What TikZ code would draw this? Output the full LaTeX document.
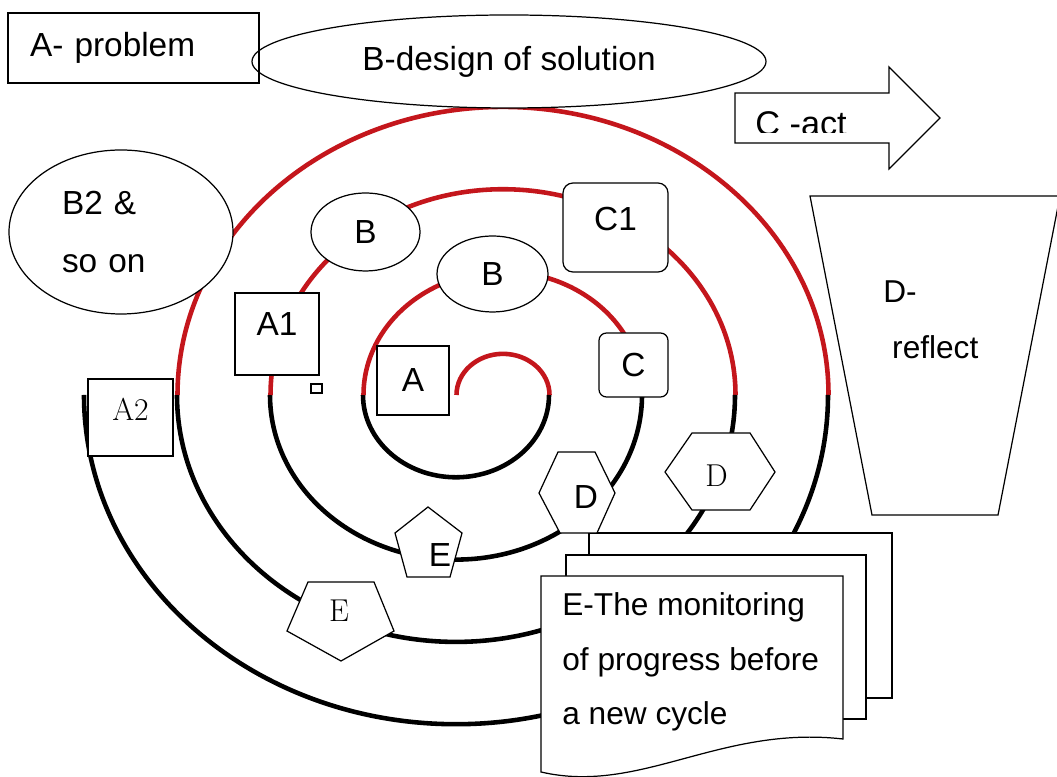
\documentclass[tikz,border=0pt]{standalone}
\usepackage{fontspec}
\setsansfont{Liberation Sans}
\usetikzlibrary{shapes.geometric}
\definecolor{spiralred}{RGB}{196,22,28}
\tikzset{
  outline/.style={line width=0.7pt, fill=white},
  stage/.style={draw, outline, inner sep=1pt, font=\sffamily\fontsize{19}{23}\selectfont},
  lettertag/.style={inner sep=0pt, font=\sffamily\fontsize{19}{23}\selectfont},
  seriftag/.style={inner sep=0pt, font=\rmfamily\fontsize{18}{22}\selectfont},
  note/.style={inner sep=0pt, anchor=north west, align=left, font=\sffamily\fontsize{18}{32}\selectfont},
  redturn/.style={spiralred, line width=2.6pt},
  blackturn/.style={black, line width=2.6pt}
}
\begin{document}
\begin{tikzpicture}
\path[use as bounding box, fill=white] (0,0) rectangle (21.14,15.54);
% spiral: red half turns above, black half turns below
\foreach \r/\R in {0.93/1.86, 2.79/3.72, 4.65/5.58, 6.51/7.44} {
  \draw[redturn] (10.06-\r,7.64) arc[start angle=180, end angle=0, x radius=\r, y radius=0.885*\r];
  \draw[blackturn] (9.12+\R,7.64) arc[start angle=0, end angle=-180, x radius=\R, y radius=0.885*\R];
}
% top row
\node[stage, ellipse, minimum width=10.28cm, minimum height=1.86cm] (design) at (10.18,14.31) {B-design of solution};
\node[stage, fill=none, minimum height=1.40cm, text width=4.14cm, inner xsep=0.44cm, align=left] (problem) at (2.67,14.58) {A- problem};
\draw[outline] (14.70,13.68) -- (17.78,13.68) -- (17.78,14.20) -- (18.80,13.18) -- (17.78,12.16) -- (17.78,12.68) -- (14.70,12.68) -- cycle;
\begin{scope}
\clip (14.70,12.88) rectangle (17.78,13.68);
\node[lettertag, anchor=base west, font=\sffamily\fontsize{19.5}{23}\selectfont] (act) at (15.10,12.83) {C -act};
\end{scope}
% reflect
\draw[outline] (16.20,11.62) -- (21.20,11.62) -- (19.96,5.24) -- (17.44,5.24) -- cycle;
\node[note] (reflect) at (17.66,9.93) {D-\\\hspace*{0.28em}reflect};
% labels on the turns
\node[stage, ellipse, minimum width=4.48cm, minimum height=3.28cm, text width=2.36cm, align=left, font=\sffamily\fontsize{19}{33}\selectfont] (btwo) at (2.42,10.90) {B2 \&\\so on};
\node[stage, ellipse, minimum width=2.18cm, minimum height=1.56cm] (bouter) at (7.31,10.90) {B};
\node[stage, ellipse, minimum width=2.22cm, minimum height=1.52cm] (binner) at (9.85,10.06) {B};
\node[stage, rounded corners=0.2cm, minimum width=2.10cm, minimum height=1.78cm] (cone) at (12.31,10.99) {};
\node[lettertag] (conetext) at ([yshift=0.16cm]cone.center) {C1};
\node[stage, minimum width=1.68cm, minimum height=1.64cm] (aone) at (5.54,8.86) {};
\node[lettertag] (aonetext) at ([yshift=0.19cm]aone.center) {A1};
\node[stage, inner sep=0pt, minimum width=0.22cm, minimum height=0.18cm] (dot) at (6.33,7.77) {};
\node[stage, minimum width=1.44cm, minimum height=1.38cm] (a) at (8.26,7.93) {A};
\node[stage, rounded corners=0.15cm, minimum width=1.38cm, minimum height=1.28cm] (c) at (12.67,8.24) {C};
\node[stage, minimum width=1.70cm, minimum height=1.54cm] (atwo) at (2.61,7.19) {};
\node[seriftag] (atwotext) at ([yshift=0.17cm]atwo.center) {A2};
% document stack
\draw[outline] (11.78,1.58) rectangle (17.84,4.88);
\draw[outline] (11.32,1.16) rectangle (17.32,4.44);
\draw[outline] (10.82,4.02) -- (16.86,4.02) -- (16.86,0.76) .. controls (14.40,1.04) and (12.80,-0.36) .. (10.82,0.10) -- cycle;
\node[note, font=\sffamily\fontsize{18}{31.2}\selectfont] (monitor) at (11.24,3.70) {E-The monitoring\\of progress before\\a new cycle};
% hexagons and pentagons
\draw[outline] (13.30,6.10) -- (13.84,6.88) -- (15.00,6.88) -- (15.50,6.10) -- (15.00,5.34) -- (13.84,5.34) -- cycle;
\node[seriftag] (douter) at (14.33,6.02) {D};
\draw[outline] (10.78,5.68) -- (11.16,6.50) -- (11.90,6.50) -- (12.30,5.68) -- (11.94,4.88) -- (11.20,4.88) -- cycle;
\node[lettertag] (dinner) at (11.72,5.60) {D};
\draw[outline] (8.56,5.40) -- (9.24,4.88) -- (9.00,4.00) -- (8.14,4.00) -- (7.90,4.88) -- cycle;
\node[lettertag] (einner) at (8.80,4.44) {E};
\draw[outline] (6.16,3.90) -- (7.48,3.90) -- (7.88,2.92) -- (6.82,2.32) -- (5.74,2.92) -- cycle;
\node[seriftag] (eouter) at (6.78,3.32) {E};
\end{tikzpicture}
\end{document}
